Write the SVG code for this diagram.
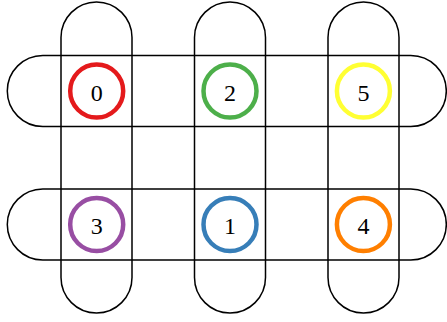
<svg xmlns="http://www.w3.org/2000/svg" width="447" height="322" viewBox="0 0 447 322">
<style>
.hyper{fill:none;stroke:#000;stroke-width:1.5}
.node circle{fill:#fff;stroke-width:4.5}
.node text{font-family:"Liberation Serif","DejaVu Serif",serif;font-size:24px;fill:#000;text-anchor:middle}
</style>
<rect width="447" height="322" fill="#fff"/>
<g id="connectors">
<rect class="hyper" x="61" y="2" width="71" height="311" rx="35.5" ry="35.5"/>
<rect class="hyper" x="194.5" y="2" width="71" height="311" rx="35.5" ry="35.5"/>
<rect class="hyper" x="328" y="2" width="71" height="311" rx="35.5" ry="35.5"/>
<rect class="hyper" x="7.3" y="55.5" width="439" height="71" rx="35.5" ry="35.5"/>
<rect class="hyper" x="7.3" y="189" width="439" height="71" rx="35.5" ry="35.5"/>
</g>
<g id="n0" class="node"><circle cx="96.7" cy="91" r="26.5" stroke="#e41a1c"/><text x="96.7" y="100.5">0</text></g>
<g id="n2" class="node"><circle cx="230" cy="91" r="26.5" stroke="#4daf4a"/><text x="230" y="100.5">2</text></g>
<g id="n5" class="node"><circle cx="363.4" cy="91" r="26.5" stroke="#ffff33"/><text x="363.4" y="100.5">5</text></g>
<g id="n3" class="node"><circle cx="96.7" cy="224.5" r="26.5" stroke="#984ea3"/><text x="96.7" y="234">3</text></g>
<g id="n1" class="node"><circle cx="230" cy="224.5" r="26.5" stroke="#377eb8"/><text x="230" y="234">1</text></g>
<g id="n4" class="node"><circle cx="363.4" cy="224.5" r="26.5" stroke="#ff7f00"/><text x="363.4" y="234">4</text></g>
</svg>
